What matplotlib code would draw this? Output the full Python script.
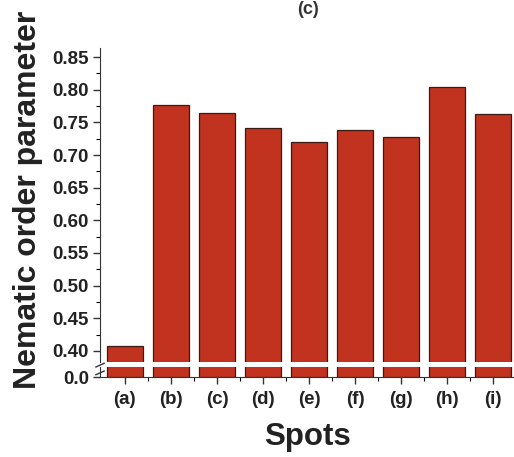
import matplotlib.pyplot as plt
import numpy as np
from matplotlib.ticker import MultipleLocator, FixedLocator

spots = ["(a)", "(b)", "(c)", "(d)", "(e)", "(f)", "(g)", "(h)", "(i)"]
order_param = [0.408, 0.777, 0.765, 0.741, 0.720, 0.739, 0.727, 0.805, 0.763]
upper_ticks = [0.40, 0.45, 0.50, 0.55, 0.60, 0.65, 0.70, 0.75, 0.80, 0.85]


def main():
    plt.rcParams["font.family"] = ["Liberation Sans", "DejaVu Sans"]
    plt.rcParams["font.weight"] = "bold"

    fig = plt.figure(figsize=(5.14, 4.57), dpi=100)
    ax_top = fig.add_axes([0.1946, 0.2079, 0.8054, 0.687])
    ax_bot = fig.add_axes([0.1946, 0.175, 0.8054, 0.022])

    x = np.arange(len(spots))
    bar_color = "#c2331f"
    for ax in (ax_top, ax_bot):
        ax.bar(x, order_param, width=0.78, color=bar_color,
               edgecolor="#3a1a12", linewidth=0.9)
        ax.set_xlim(-0.54, 8.45)
        for side in ("top", "right"):
            ax.spines[side].set_visible(False)
        for side in ("left", "bottom"):
            ax.spines[side].set_color("#333333")
        ax.tick_params(axis="both", direction="out", width=1.0,
                       labelsize=13.5, color="#333333", labelcolor="#222222")

    # upper part of the broken axis
    ax_top.set_ylim(0.383, 0.864)
    ax_top.yaxis.set_major_locator(FixedLocator(upper_ticks))
    ax_top.yaxis.set_minor_locator(MultipleLocator(0.025))
    ax_top.set_yticklabels([f"{t:.2f}" for t in upper_ticks], fontweight="bold")
    ax_top.tick_params(axis="y", which="major", length=5, pad=3)
    ax_top.tick_params(axis="y", which="minor", length=3, width=0.8)
    ax_top.spines["bottom"].set_visible(False)
    ax_top.set_xticks([])

    # lower part of the broken axis
    ax_bot.set_ylim(0, 0.015)
    ax_bot.set_yticks([0.0])
    ax_bot.set_yticklabels(["0.0"], fontweight="bold")
    ax_bot.tick_params(axis="y", which="major", length=5, pad=3)
    ax_bot.set_xticks(x)
    ax_bot.set_xticklabels(spots, fontweight="bold", fontsize=13.5)
    ax_bot.xaxis.set_minor_locator(FixedLocator(x[:-1] + 0.5))
    ax_bot.tick_params(axis="x", which="major", length=5, pad=5)
    ax_bot.tick_params(axis="x", which="minor", length=3, width=0.8)
    ax_bot.set_xlabel("Spots", fontsize=22.5, fontweight="bold", labelpad=10,
                      color="#222222")

    # break marks on the y axis
    d = 0.008
    fig.lines.append(plt.Line2D([0.1946 - d, 0.1946 + d], [0.197, 0.205],
                                transform=fig.transFigure, color="#333333", lw=1))
    fig.lines.append(plt.Line2D([0.1946 - d, 0.1946 + d], [0.180, 0.188],
                                transform=fig.transFigure, color="#333333", lw=1))

    fig.text(0.054, 0.562, "Nematic order parameter", rotation=90,
             ha="center", va="center", fontsize=23, fontweight="bold",
             color="#222222")
    fig.text(0.60, 0.998, "(c)", ha="center", va="top", fontsize=13,
             color="#333333")

    fig.savefig("out.png", dpi=100)
    plt.close(fig)


if __name__ == "__main__":
    main()
